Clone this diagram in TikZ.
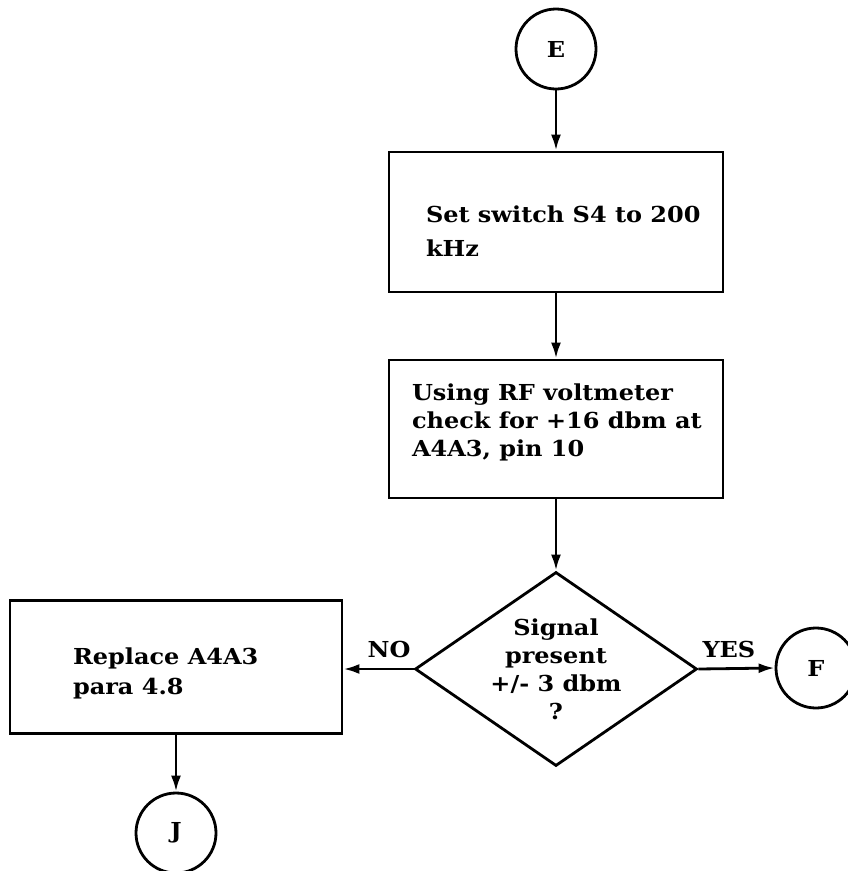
\documentclass[tikz,border=0pt]{standalone}
\usepackage{fontspec}
\setmainfont[FakeStretch=1.09]{DejaVu Serif}
\usepackage{tikz}
\usetikzlibrary{shapes.geometric,arrows.meta}

\begin{document}
\begin{tikzpicture}[x=1pt,y=-1pt,
    line width=2.8pt,
    every node/.style={font=\fontsize{22}{25}\selectfont\bfseries},
    boxtext/.style={align=left, inner sep=0pt, anchor=west},
    stepbox/.style={draw, rectangle, minimum width=334pt, minimum height=140pt},
    connector/.style={draw, circle, minimum size=80pt, inner sep=0pt},
    decision/.style={draw, diamond, inner sep=0pt, minimum width=282pt, minimum height=194pt},
    flow/.style={-{Latex[length=16pt,width=10pt]}}]
  \useasboundingbox (0,0) rectangle (847,871);

  \node[connector] (E) at (556,49) {E};
  \node[stepbox, label={[boxtext, xshift=37pt, yshift=-9pt,
      font=\fontsize{22}{34}\selectfont\bfseries]west:Set switch S4 to 200\\kHz}]
    (setS4) at (556,222) {};
  \node[stepbox, minimum height=138pt, label={[boxtext, xshift=23pt, yshift=7pt,
      font=\fontsize{22}{28}\selectfont\bfseries]west:Using RF voltmeter\\check for +16 dbm at\\A4A3, pin 10}]
    (check) at (556,429) {};
  \node[decision, label={[align=center, font=\fontsize{22}{28}\selectfont\bfseries]center:Signal\\present\\+/- 3 dbm\\?}]
    (signal) at (556,669) {};
  \node[stepbox, minimum width=332pt, minimum height=133pt,
      label={[boxtext, xshift=63pt, yshift=-6pt, font=\fontsize{22}{30}\selectfont\bfseries]west:Replace A4A3\\para 4.8}]
    (replace) at (176,667) {};
  \node[connector] (F) at (816,668) {F};
  \node[connector] (J) at (176,833) {J};

  \draw[flow] (E) -- (setS4);
  \draw[flow] (setS4) -- (check);
  \draw[flow] (check) -- (signal);
  \draw[flow] (signal.west) -- node[pos=0.35, above=6pt] {NO} (signal.west -| replace.east);
  \draw[flow] (signal.east) -- node[pos=0.4, above=6pt] {YES} (F.west);
  \draw[flow] (replace) -- (J);
\end{tikzpicture}
\end{document}
